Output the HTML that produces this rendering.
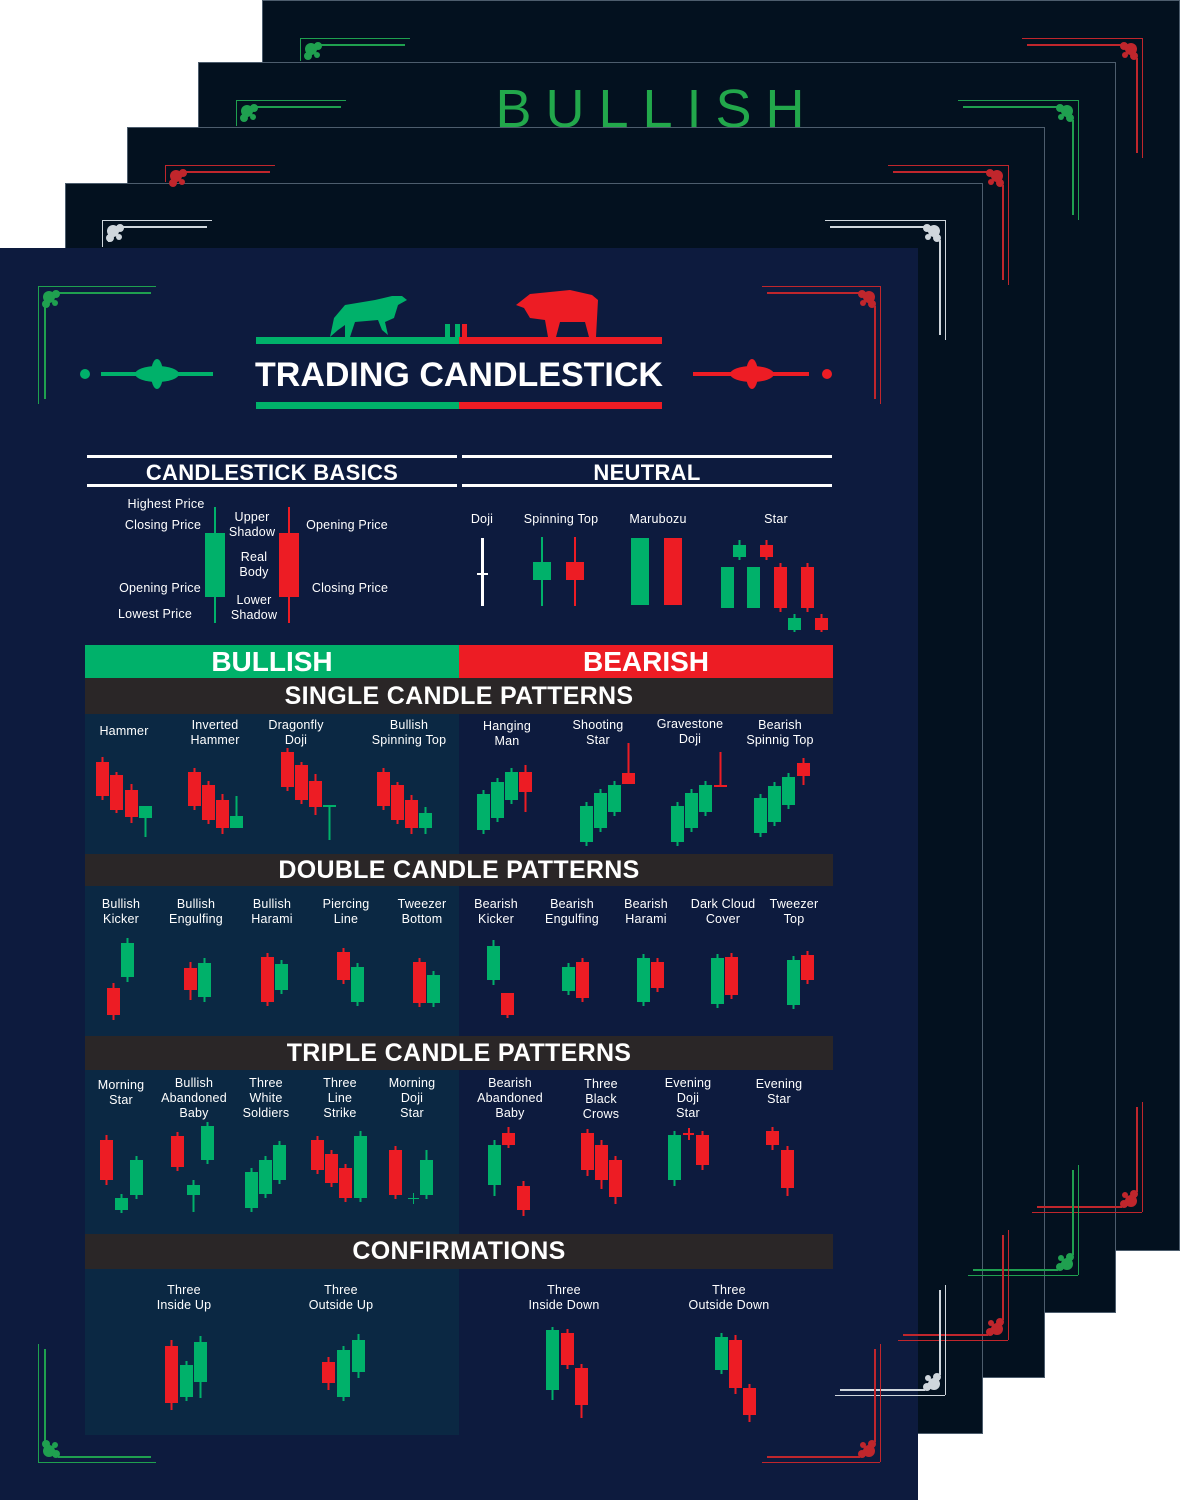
<!DOCTYPE html>
<html><head><meta charset="utf-8"><style>
*{margin:0;padding:0;box-sizing:border-box}
body{width:1180px;height:1500px;background:#fff;position:relative;overflow:hidden;font-family:"Liberation Sans",Arial,sans-serif}
.l{position:absolute;background:#03111f;border:1px solid #4d5d6d}
.a{position:absolute}
.t{position:absolute;color:#fff;font-weight:bold;text-align:center;white-space:nowrap}
.s{font-size:12.5px;line-height:15px;font-weight:normal;letter-spacing:.2px}
.h{font-size:25px;line-height:34px;letter-spacing:.3px}
.h2{font-size:22px;line-height:34px;letter-spacing:.3px}
</style></head><body>
<div class="l" style="left:262px;top:0;width:918px;height:1251px"></div>
<div class="l" style="left:198px;top:62px;width:918px;height:1251px"></div>
<div class="t" style="left:198px;width:918px;top:78px;font-size:54px;font-weight:normal;color:#22a84b;letter-spacing:14px">BULLISH</div>
<div class="l" style="left:127px;top:127px;width:918px;height:1251px"></div>
<div class="l" style="left:65px;top:183px;width:918px;height:1251px"></div>
<div class="a" style="left:0;top:248px;width:918px;height:1252px;background:#0d1b3e"></div>
<div class="a" style="left:85px;top:714px;width:374px;height:140px;background:#0b2843"></div>
<div class="a" style="left:85px;top:886px;width:374px;height:150px;background:#0b2843"></div>
<div class="a" style="left:85px;top:1070px;width:374px;height:164px;background:#0b2843"></div>
<div class="a" style="left:85px;top:1269px;width:374px;height:166px;background:#0b2843"></div>
<svg class="a" style="left:0;top:0" width="1180" height="1500" id="sv"></svg>
<div class="t" style="left:236px;width:446px;top:354px;font-size:34px;line-height:42px">TRADING CANDLESTICK</div>
<div class="t h2" style="left:87px;width:370px;top:456px">CANDLESTICK BASICS</div>
<div class="t h2" style="left:462px;width:370px;top:456px">NEUTRAL</div>
<div class="a" style="left:85px;top:645px;width:374px;height:33px;background:#00b16a"></div>
<div class="a" style="left:459px;top:645px;width:374px;height:33px;background:#ed1c24"></div>
<div class="t" style="left:85px;width:374px;top:644px;font-size:28px;line-height:36px">BULLISH</div>
<div class="t" style="left:459px;width:374px;top:644px;font-size:28px;line-height:36px">BEARISH</div>
<div class="a" style="left:85px;top:678px;width:748px;height:36px;background:#2a2627"></div>
<div class="a" style="left:85px;top:854px;width:748px;height:32px;background:#2a2627"></div>
<div class="a" style="left:85px;top:1036px;width:748px;height:34px;background:#2a2627"></div>
<div class="a" style="left:85px;top:1234px;width:748px;height:35px;background:#2a2627"></div>
<div class="t h" style="left:85px;width:748px;top:679px">SINGLE CANDLE PATTERNS</div>
<div class="t h" style="left:85px;width:748px;top:853px">DOUBLE CANDLE PATTERNS</div>
<div class="t h" style="left:85px;width:748px;top:1036px">TRIPLE CANDLE PATTERNS</div>
<div class="t h" style="left:85px;width:748px;top:1234px">CONFIRMATIONS</div>
<div id="lb"></div>
<script>
var S=document.getElementById('sv'),o='';
function R(x,y,w,h,c){o+='<rect x="'+x+'" y="'+y+'" width="'+w+'" height="'+h+'" fill="'+c+'"/>';}
var G='#00b16a',D='#ed1c24';
function C(x,t,b,wt,wb,c,w){w=w||13;var cx=x+w/2;R(cx-1,wt,2,wb-wt,c);R(x,t,w,Math.max(b-t,2),c);}
function corner(x,y,dx,dy,c,len,vl){
 vl=vl||len;
 R(dx>0?x:x-len,y,len,1,c);R(dx>0?x+20:x-len+5,y+dy*6,len-25,2,c);
 R(x,dy>0?y:y-vl,1,vl,c);if(vl>25)R(x+dx*6,dy>0?y+20:y-vl+5,2,vl-25,c);
 var cx=x+dx*11,cy=y+dy*11;
 o+='<circle cx="'+cx+'" cy="'+cy+'" r="6" fill="'+c+'"/><circle cx="'+(cx+dx*7)+'" cy="'+(cy-dy*3)+'" r="4" fill="'+c+'"/><circle cx="'+(cx-dx*3)+'" cy="'+(cy+dy*7)+'" r="4" fill="'+c+'"/><circle cx="'+(cx+dx*6)+'" cy="'+(cy+dy*6)+'" r="3" fill="'+c+'"/>';}
corner(300,38,1,1,'#1fa04f',110,23);corner(1142,38,-1,1,'#c0262c',120);corner(1142,1212,-1,-1,'#c0262c',110);
corner(236,100,1,1,'#1fa04f',110,26);corner(1078,100,-1,1,'#1fa04f',120);corner(1078,1275,-1,-1,'#1fa04f',110);
corner(165,165,1,1,'#c0262c',110,17);corner(1008,165,-1,1,'#c0262c',120);corner(1008,1340,-1,-1,'#c0262c',110);
corner(102,220,1,1,'#cfd6dc',110,27);corner(945,220,-1,1,'#cfd6dc',120);corner(945,1395,-1,-1,'#cfd6dc',110);
corner(38,286,1,1,'#1fa04f',118);corner(880,286,-1,1,'#c0262c',118);corner(38,1462,1,-1,'#1fa04f',118);corner(880,1462,-1,-1,'#c0262c',118);
// title
R(256,337,203,7,G);R(459,337,203,7,D);R(256,402,203,7,G);R(459,402,203,7,D);R(445,324,5,13,G);R(455,324,5,13,G);R(462,324,5,13,D);
o+='<path d="M330 337 L334 318 L345 305 L375 300 L392 296 L402 296 L407 300 L398 305 L394 318 L385 322 L388 335 L382 330 L378 320 L355 322 L350 337 L345 337 L345 325 L338 330 Z" fill="'+G+'"/>';
o+='<path d="M516 305 L530 294 L570 290 L592 295 L598 300 L596 337 L589 337 L585 322 L560 322 L556 337 L548 337 L545 320 L530 318 L524 308 Z" fill="'+D+'"/>';
o+='<circle cx="85" cy="374" r="5" fill="'+G+'"/>';R(101,372,112,4,G);o+='<ellipse cx="157" cy="374" rx="22" ry="8" fill="'+G+'"/><ellipse cx="157" cy="374" rx="6" ry="15" fill="'+G+'"/>';
o+='<circle cx="827" cy="374" r="5" fill="'+D+'"/>';R(693,372,116,4,D);o+='<ellipse cx="752" cy="374" rx="22" ry="8" fill="'+D+'"/><ellipse cx="752" cy="374" rx="6" ry="15" fill="'+D+'"/>';
R(87,455,370,3,'#fff');R(87,484,370,3,'#fff');R(462,455,370,3,'#fff');R(462,484,370,3,'#fff');
C(205,533,597,507,623,G,20);C(279,533,597,507,623,D,20);
R(481,538,3,68,'#fff');R(477,573,11,2,'#fff');
C(533,562,580,537,606,G,18);C(566,562,580,537,606,D,18);
C(631,538,605,538,605,G,18);C(664,538,605,538,605,D,18);
C(721,567,608,567,608,G);C(733,545,557,540,560,G);C(747,567,608,567,608,G);C(760,545,557,540,560,D);C(774,567,608,563,612,D);C(788,618,630,614,632,G);C(801,567,608,563,612,D);C(815,618,630,614,632,D);
C(96,762,796,757,800,D);C(110,775,810,772,813,D);C(125,790,817,784,823,D);C(139,806,818,806,837,G);
C(188,772,806,768,810,D);C(202,785,820,781,824,D);C(216,800,828,794,834,D);C(230,816,828,796,828,G);
C(281,752,787,748,791,D);C(295,765,800,762,804,D);C(309,781,807,774,815,D);C(323,805,807,805,840,G);
C(377,772,806,768,810,D);C(391,785,820,782,824,D);C(405,800,828,795,834,D);C(419,813,828,807,834,G);
C(477,794,830,790,834,G);C(491,782,818,778,822,G);C(505,772,800,768,804,G);C(519,772,792,765,812,D);
C(580,806,842,802,846,G);C(594,793,828,789,832,G);C(608,785,812,781,816,G);C(622,773,784,743,784,D);
C(671,806,842,802,846,G);C(685,793,828,789,832,G);C(699,785,812,781,816,G);C(714,785,787,752,787,D);
C(754,798,833,794,837,G);C(768,786,822,782,826,G);C(782,777,805,773,809,G);C(797,763,776,758,785,D);
C(107,988,1015,983,1020,D);C(121,943,977,938,982,G);
C(184,968,990,962,1000,D);C(198,963,997,958,1002,G);
C(261,957,1002,953,1006,D);C(275,964,990,960,994,G);
C(337,952,980,948,984,D);C(351,967,1002,963,1006,G);
C(413,962,1003,958,1007,D);C(427,975,1003,971,1007,G);
C(487,946,980,940,985,G);C(501,993,1015,993,1018,D);
C(562,967,991,963,995,G);C(576,962,998,958,1002,D);
C(637,958,1002,954,1006,G);C(651,962,988,958,992,D);
C(711,958,1004,954,1008,G);C(725,957,995,953,999,D);
C(787,960,1005,956,1009,G);C(801,955,980,951,984,D);
C(100,1140,1180,1135,1185,D);C(115,1198,1210,1194,1213,G);C(130,1160,1195,1156,1199,G);
C(171,1136,1167,1132,1171,D);C(187,1185,1195,1180,1212,G);C(201,1126,1160,1122,1164,G);
C(245,1172,1208,1168,1212,G);C(259,1160,1194,1156,1198,G);C(273,1145,1180,1141,1184,G);
C(311,1140,1170,1136,1174,D);C(325,1154,1183,1150,1187,D);C(339,1168,1198,1164,1202,D);C(354,1136,1198,1131,1202,G);
C(389,1150,1195,1146,1199,D);R(408,1198,11,1,G);R(413,1193,1,11,G);C(420,1160,1195,1150,1199,G);
C(488,1145,1185,1140,1196,G);C(502,1133,1145,1127,1148,D);C(517,1186,1210,1181,1216,D);
C(581,1133,1170,1129,1176,D);C(595,1145,1180,1140,1189,D);C(609,1160,1197,1156,1204,D);
C(668,1135,1180,1131,1186,G);R(683,1133,11,2,D);R(688,1128,2,12,D);C(696,1135,1165,1131,1170,D);
C(766,1131,1145,1127,1150,D);C(781,1150,1188,1146,1196,D);
C(165,1346,1403,1340,1410,D);C(180,1365,1397,1361,1401,G);C(194,1342,1382,1336,1398,G);
C(322,1362,1383,1357,1390,D);C(337,1350,1397,1346,1401,G);C(352,1340,1372,1334,1378,G);
C(546,1330,1390,1327,1400,G);C(561,1333,1365,1329,1369,D);C(575,1368,1405,1364,1418,D);
C(715,1337,1370,1333,1374,G);C(729,1340,1388,1335,1394,D);C(743,1388,1415,1384,1422,D);
S.innerHTML=o;
var L=[[166,497,'Highest Price'],[163,518,'Closing Price'],[252,510,'Upper<br>Shadow'],[347,518,'Opening Price'],[254,550,'Real<br>Body'],[160,581,'Opening Price'],[350,581,'Closing Price'],[155,607,'Lowest Price'],[254,593,'Lower<br>Shadow'],
[482,512,'Doji'],[561,512,'Spinning Top'],[658,512,'Marubozu'],[776,512,'Star'],
[124,724,'Hammer'],[215,718,'Inverted<br>Hammer'],[296,718,'Dragonfly<br>Doji'],[409,718,'Bullish<br>Spinning Top'],[507,719,'Hanging<br>Man'],[598,718,'Shooting<br>Star'],[690,717,'Gravestone<br>Doji'],[780,718,'Bearish<br>Spinnig Top'],
[121,897,'Bullish<br>Kicker'],[196,897,'Bullish<br>Engulfing'],[272,897,'Bullish<br>Harami'],[346,897,'Piercing<br>Line'],[422,897,'Tweezer<br>Bottom'],[496,897,'Bearish<br>Kicker'],[572,897,'Bearish<br>Engulfing'],[646,897,'Bearish<br>Harami'],[723,897,'Dark Cloud<br>Cover'],[794,897,'Tweezer<br>Top'],
[121,1078,'Morning<br>Star'],[194,1076,'Bullish<br>Abandoned<br>Baby'],[266,1076,'Three<br>White<br>Soldiers'],[340,1076,'Three<br>Line<br>Strike'],[412,1076,'Morning<br>Doji<br>Star'],[510,1076,'Bearish<br>Abandoned<br>Baby'],[601,1077,'Three<br>Black<br>Crows'],[688,1076,'Evening<br>Doji<br>Star'],[779,1077,'Evening<br>Star'],
[184,1283,'Three<br>Inside Up'],[341,1283,'Three<br>Outside Up'],[564,1283,'Three<br>Inside Down'],[729,1283,'Three<br>Outside Down']];
var h='';L.forEach(function(a){h+='<div class="t s" style="left:'+(a[0]-70)+'px;width:140px;top:'+a[1]+'px">'+a[2]+'</div>';});
document.getElementById('lb').innerHTML=h;
</script>
</body></html>
